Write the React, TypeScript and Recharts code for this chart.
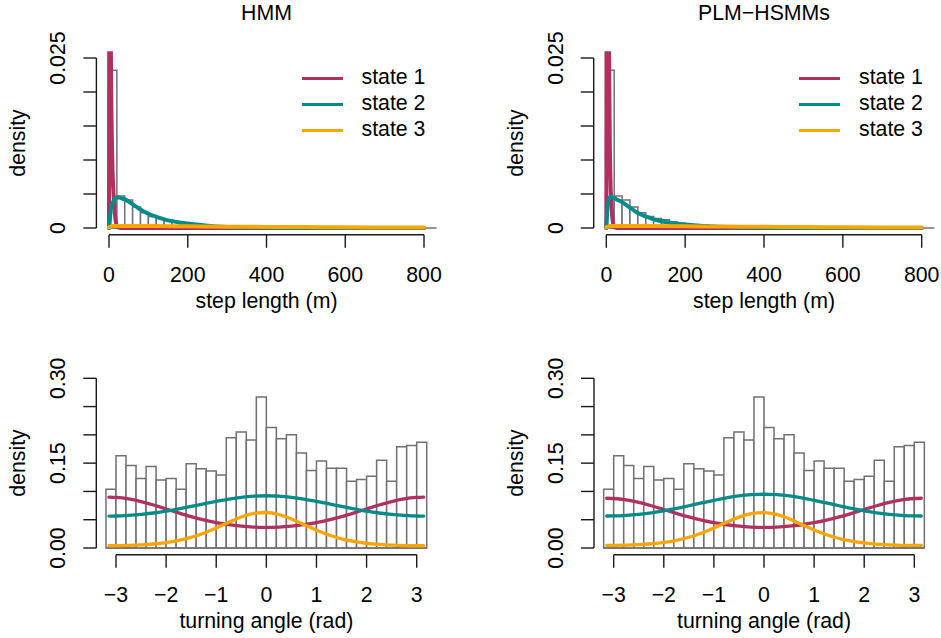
import {
  ComposedChart,
  Line,
  XAxis,
  YAxis,
  ReferenceArea,
  ReferenceLine,
} from "recharts";

// histogram of step lengths (20 m bins)
const stepBreaks = [
  0, 20, 40, 60, 80, 100, 120, 140, 160, 180, 200, 220, 240, 260, 280, 300, 320, 340, 360, 380, 400,
  420, 440, 460, 480, 500, 520, 540, 560, 580, 600, 620, 640, 660, 680, 700, 720, 740, 760, 780, 800,
  820, 840,
];
const stepDensity = [
  0.0232, 0.0047, 0.0041, 0.0031, 0.00225, 0.0017, 0.0014, 0.0012, 0.0009, 0.0007, 0.0005, 0.0004,
  0.0004, 0.0003, 0.0002, 0.0002, 0.00015, 0.0001, 0.0001, 0.00005, 0.00005, 0.00003, 0, 0.00003, 0,
  0, 0, 0, 0, 0, 0, 0, 0, 0, 0, 0, 0, 0, 0, 0, 0, 0,
];

// histogram of turning angles (0.2 rad bins)
const angleBreaks = [
  -3.2, -3, -2.8, -2.6, -2.4, -2.2, -2, -1.8, -1.6, -1.4, -1.2, -1, -0.8, -0.6, -0.4, -0.2, 0, 0.2,
  0.4, 0.6, 0.8, 1, 1.2, 1.4, 1.6, 1.8, 2, 2.2, 2.4, 2.6, 2.8, 3, 3.2,
];
const angleDensity = [
  0.104, 0.163, 0.146, 0.123, 0.144, 0.12, 0.123, 0.104, 0.149, 0.14, 0.136, 0.129, 0.195, 0.205,
  0.191, 0.267, 0.213, 0.193, 0.2, 0.168, 0.137, 0.154, 0.141, 0.141, 0.118, 0.121, 0.127, 0.155,
  0.118, 0.179, 0.181, 0.187,
];

// fitted step-length densities
const stepGridS1 = [0, 0.5, 1, 2, 3, 4, 5, 6, 7, 8, 9, 10, 11, 12, 13, 14, 15, 17, 20, 25, 30, 800];
const hmmStepS1 = [
  0, 0.03, 0.06, 0.07, 0.05, 0.034, 0.024, 0.018, 0.014, 0.011, 0.0085, 0.0068, 0.0055, 0.0045,
  0.0035, 0.0027, 0.002, 0.001, 0.0003, 0.00005, 0, 0,
];
const plmStepS1 = [
  0, 0.03, 0.06, 0.075, 0.07, 0.06, 0.045, 0.035, 0.026, 0.018, 0.012, 0.0085, 0.006, 0.0045, 0.0033,
  0.0024, 0.0017, 0.0008, 0.0002, 0.00003, 0, 0,
];
const hmmGridS2 = [
  0, 1, 3, 5, 8, 11, 15, 20, 25, 30, 40, 50, 60, 70, 80, 90, 100, 125, 150, 175, 200, 250, 300, 350,
  400, 500, 800,
];
const hmmStepS2 = [
  0, 0.0003, 0.0018, 0.0029, 0.0035, 0.0039, 0.0043, 0.0045, 0.0045, 0.0044, 0.0042, 0.0039, 0.0035,
  0.0031, 0.0027, 0.0024, 0.0021, 0.00157, 0.00112, 0.00085, 0.00066, 0.00034, 0.00016, 0.00008,
  0.00004, 0.00001, 0,
];
const plmGridS2 = [
  0, 1, 3, 5, 8, 12, 16, 20, 30, 40, 50, 60, 80, 100, 125, 150, 175, 200, 250, 300, 350, 400, 500, 800,
];
const plmStepS2 = [
  0, 0.0012, 0.003, 0.0039, 0.0045, 0.0046, 0.0045, 0.0044, 0.0041, 0.0038, 0.0034, 0.003, 0.0022,
  0.0017, 0.0012, 0.00088, 0.00068, 0.0005, 0.00028, 0.00014, 0.00007, 0.00003, 0.00001, 0,
];
const stepGridS3 = [0, 10, 50, 100, 200, 300, 400, 500, 600, 700, 800];
const hmmStepS3 = [0.0001, 0.0003, 0.0003, 0.0003, 0.00025, 0.0002, 0.00016, 0.00013, 0.0001, 0.00008, 0.00006];
const plmStepS3 = [0.0001, 0.0003, 0.0003, 0.0003, 0.00026, 0.00021, 0.00017, 0.00013, 0.0001, 0.00008, 0.00006];

// fitted turning-angle densities
const angleGrid = [
  -3.14, -3, -2.75, -2.5, -2.25, -2, -1.75, -1.5, -1.25, -1, -0.75, -0.5, -0.25, 0, 0.25, 0.5, 0.75, 1,
  1.25, 1.5, 1.75, 2, 2.25, 2.5, 2.75, 3, 3.14,
];
const hmmAngleS1 = [
  0.09, 0.0894, 0.0868, 0.0821, 0.076, 0.069, 0.062, 0.0554, 0.0497, 0.0449, 0.0412, 0.0386, 0.037,
  0.0365, 0.037, 0.0386, 0.0412, 0.0449, 0.0497, 0.0554, 0.062, 0.069, 0.076, 0.0821, 0.0868, 0.0894,
  0.09,
];
const hmmAngleS2 = [
  0.0565, 0.0566, 0.0576, 0.0593, 0.0619, 0.0652, 0.0692, 0.0735, 0.0781, 0.0825, 0.0865, 0.0897,
  0.0917, 0.0924, 0.0917, 0.0897, 0.0865, 0.0825, 0.0781, 0.0735, 0.0692, 0.0652, 0.0619, 0.0593,
  0.0576, 0.0566, 0.0565,
];
const hmmAngleS3 = [
  0.004, 0.0041, 0.0046, 0.0055, 0.0071, 0.0095, 0.0133, 0.0187, 0.0261, 0.0354, 0.0455, 0.0549,
  0.0612, 0.0628, 0.0592, 0.0514, 0.0414, 0.0315, 0.0229, 0.0163, 0.0116, 0.0084, 0.0063, 0.0051,
  0.0043, 0.004, 0.004,
];
const plmAngleS1 = [
  0.088, 0.0875, 0.0851, 0.0806, 0.0747, 0.0681, 0.0613, 0.0549, 0.0493, 0.0447, 0.0411, 0.0385,
  0.037, 0.0365, 0.037, 0.0385, 0.0411, 0.0447, 0.0493, 0.0549, 0.0613, 0.0681, 0.0747, 0.0806,
  0.0851, 0.0875, 0.088,
];
const plmAngleS2 = [
  0.0566, 0.0567, 0.0577, 0.0596, 0.0623, 0.0658, 0.07, 0.0747, 0.0796, 0.0843, 0.0886, 0.0921,
  0.0942, 0.095, 0.0942, 0.0921, 0.0886, 0.0843, 0.0796, 0.0747, 0.07, 0.0658, 0.0623, 0.0596,
  0.0577, 0.0567, 0.0566,
];
const plmAngleS3 = [
  0.0045, 0.0046, 0.005, 0.0059, 0.0075, 0.0099, 0.0137, 0.019, 0.0262, 0.0353, 0.0452, 0.0545,
  0.0608, 0.0627, 0.0594, 0.0518, 0.0419, 0.032, 0.0234, 0.0168, 0.0121, 0.0089, 0.0068, 0.0056,
  0.0048, 0.0045, 0.0045,
];

// axis ticks and labels
const stepTicks = [0, 200, 400, 600, 800];
const stepYTicks = [0, 0.005, 0.01, 0.015, 0.02, 0.025];
const stepYLabels = ["0", "", "", "", "", "0.025"];
const angleTicks = [-3, -2, -1, 0, 1, 2, 3];
const angleYTicks = [0, 0.05, 0.1, 0.15, 0.2, 0.25, 0.3];
const angleYLabels = ["0.00", "", "", "0.15", "", "", "0.30"];

const stateNames = ["state 1", "state 2", "state 3"];
const stateColors = ["#B03060", "#008B8B", "#FFA500"];

const FONT = '"Liberation Sans", Arial, Helvetica, sans-serif';
const FS = 21.3;
const AXIS = "#1a1a1a";
const BAR = "#707070";

const toPoints = (xs: number[], ys: number[]) => xs.map((x, i) => ({ x, y: ys[i] }));
const fmtSigned = (v: number) => (v < 0 ? "\u2212" + Math.abs(v) : String(v));

interface Curve {
  xs: number[];
  ys: number[];
}

interface PanelProps {
  box: { left: number; top: number; width: number; height: number };
  plot: { left: number; right: number; top: number; bottom: number };
  xDomain: [number, number];
  yDomain: [number, number];
  xTicks: number[];
  yTicks: number[];
  yLabels: string[];
  breaks: number[];
  dens: number[];
  curves: Curve[];
  lineWidth: number;
}

function Panel({ box, plot, xDomain, yDomain, xTicks, yTicks, yLabels, breaks, dens, curves, lineWidth }: PanelProps) {
  const yAxisWidth = plot.left - box.left;
  const marginRight = box.left + box.width - plot.right;
  const marginTop = plot.top - box.top;
  const xAxisHeight = box.top + box.height - plot.bottom;

  const XTick = (p: any) => (
    <text x={p.x} y={p.y + 27} textAnchor="middle" dominantBaseline="central" fontSize={FS} fontFamily={FONT} fill="#000">
      {fmtSigned(p.payload.value)}
    </text>
  );
  const YTick = (p: any) => {
    const cx = p.x - 25;
    return (
      <text
        x={cx}
        y={p.y}
        transform={`rotate(-90, ${cx}, ${p.y})`}
        textAnchor="middle"
        dominantBaseline="central"
        fontSize={FS}
        fontFamily={FONT}
        fill="#000"
      >
        {yLabels[p.index]}
      </text>
    );
  };

  return (
    <div style={{ position: "absolute", left: box.left, top: box.top }}>
      <ComposedChart
        width={box.width}
        height={box.height}
        margin={{ top: marginTop, right: marginRight, bottom: 0, left: 0 }}
      >
        <XAxis
          type="number"
          dataKey="x"
          domain={xDomain}
          ticks={xTicks}
          allowDataOverflow
          axisLine={false}
          tickLine={{ stroke: AXIS, strokeWidth: 1.4 }}
          tickSize={13}
          tickMargin={0}
          height={xAxisHeight}
          tick={XTick}
          interval={0}
        />
        <YAxis
          type="number"
          domain={yDomain}
          ticks={yTicks}
          allowDataOverflow
          axisLine={false}
          tickLine={{ stroke: AXIS, strokeWidth: 1.4 }}
          tickSize={13}
          tickMargin={0}
          width={yAxisWidth}
          tick={YTick}
          interval={0}
        />
        <ReferenceLine
          segment={[
            { x: xTicks[0], y: yDomain[0] },
            { x: xTicks[xTicks.length - 1], y: yDomain[0] },
          ]}
          stroke={AXIS}
          strokeWidth={1.4}
          ifOverflow="visible"
        />
        <ReferenceLine
          segment={[
            { x: xDomain[0], y: yTicks[0] },
            { x: xDomain[0], y: yTicks[yTicks.length - 1] },
          ]}
          stroke={AXIS}
          strokeWidth={1.4}
          ifOverflow="visible"
        />
        <ReferenceLine
          segment={[
            { x: breaks[0], y: 0 },
            { x: breaks[breaks.length - 1], y: 0 },
          ]}
          stroke={BAR}
          strokeWidth={1.5}
          ifOverflow="hidden"
        />
        {breaks.slice(0, -1).map((b, i) =>
          dens[i] > 0 ? (
            <ReferenceArea
              key={"bin" + i}
              x1={b}
              x2={breaks[i + 1]}
              y1={0}
              y2={dens[i]}
              fill="#ffffff"
              fillOpacity={1}
              stroke={BAR}
              strokeWidth={1.5}
              ifOverflow="visible"
            />
          ) : null
        )}
        {curves.map((c, i) => (
          <Line
            key={"curve" + i}
            data={toPoints(c.xs, c.ys)}
            dataKey="y"
            type="monotone"
            stroke={stateColors[i]}
            strokeWidth={lineWidth}
            strokeLinejoin="round"
            strokeLinecap="round"
            dot={false}
            activeDot={false}
            isAnimationActive={false}
          />
        ))}
      </ComposedChart>
    </div>
  );
}

function Text({ x, y, children, rotate }: { x: number; y: number; children: string; rotate?: boolean }) {
  return (
    <div
      style={{
        position: "absolute",
        left: x,
        top: y,
        transform: `translate(-50%, -50%)${rotate ? " rotate(-90deg)" : ""}`,
        fontFamily: FONT,
        fontSize: FS,
        lineHeight: 1,
        whiteSpace: "nowrap",
        color: "#000",
      }}
    >
      {children}
    </div>
  );
}

function StateLegend({ x, y }: { x: number; y: number }) {
  return (
    <>
      {stateNames.map((name, i) => (
        <div key={name}>
          <div
            style={{
              position: "absolute",
              left: x,
              top: y + i * 26 - 1.5,
              width: 41,
              height: 3,
              background: stateColors[i],
            }}
          />
          <div
            style={{
              position: "absolute",
              left: x + 60,
              top: y + i * 26,
              transform: "translateY(-50%)",
              fontFamily: FONT,
              fontSize: FS,
              lineHeight: 1,
              whiteSpace: "nowrap",
            }}
          >
            {name}
          </div>
        </div>
      ))}
    </>
  );
}

export default function App() {
  const stepY: [number, number] = [-0.001, 0.026];
  const stepX: [number, number] = [-32, 832];
  const angleX: [number, number] = [-3.393, 3.393];
  const angleY: [number, number] = [-0.012, 0.312];

  return (
    <div style={{ position: "absolute", left: 0, top: 0, width: 941, height: 638, background: "#fff", overflow: "hidden" }}>
      <Panel
        box={{ left: 0, top: 0, width: 470, height: 319 }}
        plot={{ left: 96.4, right: 436.6, top: 51.2, bottom: 234.8 }}
        xDomain={stepX}
        yDomain={stepY}
        xTicks={stepTicks}
        yTicks={stepYTicks}
        yLabels={stepYLabels}
        breaks={stepBreaks}
        dens={stepDensity}
        curves={[
          { xs: stepGridS1, ys: hmmStepS1 },
          { xs: hmmGridS2, ys: hmmStepS2 },
          { xs: stepGridS3, ys: hmmStepS3 },
        ]}
        lineWidth={4}
      />
      <Panel
        box={{ left: 470, top: 0, width: 471, height: 319 }}
        plot={{ left: 593.7, right: 934.3, top: 51.2, bottom: 234.8 }}
        xDomain={stepX}
        yDomain={stepY}
        xTicks={stepTicks}
        yTicks={stepYTicks}
        yLabels={stepYLabels}
        breaks={stepBreaks}
        dens={stepDensity}
        curves={[
          { xs: stepGridS1, ys: plmStepS1 },
          { xs: plmGridS2, ys: plmStepS2 },
          { xs: stepGridS3, ys: plmStepS3 },
        ]}
        lineWidth={4}
      />
      <Panel
        box={{ left: 0, top: 319, width: 470, height: 319 }}
        plot={{ left: 96.3, right: 436.4, top: 371.5, bottom: 554.8 }}
        xDomain={angleX}
        yDomain={angleY}
        xTicks={angleTicks}
        yTicks={angleYTicks}
        yLabels={angleYLabels}
        breaks={angleBreaks}
        dens={angleDensity}
        curves={[
          { xs: angleGrid, ys: hmmAngleS1 },
          { xs: angleGrid, ys: hmmAngleS2 },
          { xs: angleGrid, ys: hmmAngleS3 },
        ]}
        lineWidth={3.3}
      />
      <Panel
        box={{ left: 470, top: 319, width: 471, height: 319 }}
        plot={{ left: 594, right: 934, top: 371.5, bottom: 554.8 }}
        xDomain={angleX}
        yDomain={angleY}
        xTicks={angleTicks}
        yTicks={angleYTicks}
        yLabels={angleYLabels}
        breaks={angleBreaks}
        dens={angleDensity}
        curves={[
          { xs: angleGrid, ys: plmAngleS1 },
          { xs: angleGrid, ys: plmAngleS2 },
          { xs: angleGrid, ys: plmAngleS3 },
        ]}
        lineWidth={3.3}
      />

      <Text x={266.5} y={14}>HMM</Text>
      <Text x={764} y={14}>PLM{"\u2212"}HSMMs</Text>
      <Text x={266.5} y={302}>step length (m)</Text>
      <Text x={764} y={302}>step length (m)</Text>
      <Text x={266.4} y={622}>turning angle (rad)</Text>
      <Text x={764} y={622}>turning angle (rad)</Text>
      <Text x={19} y={143} rotate>density</Text>
      <Text x={517} y={143} rotate>density</Text>
      <Text x={19} y={463} rotate>density</Text>
      <Text x={517} y={463} rotate>density</Text>

      <StateLegend x={301.5} y={78} />
      <StateLegend x={799} y={78} />
    </div>
  );
}
